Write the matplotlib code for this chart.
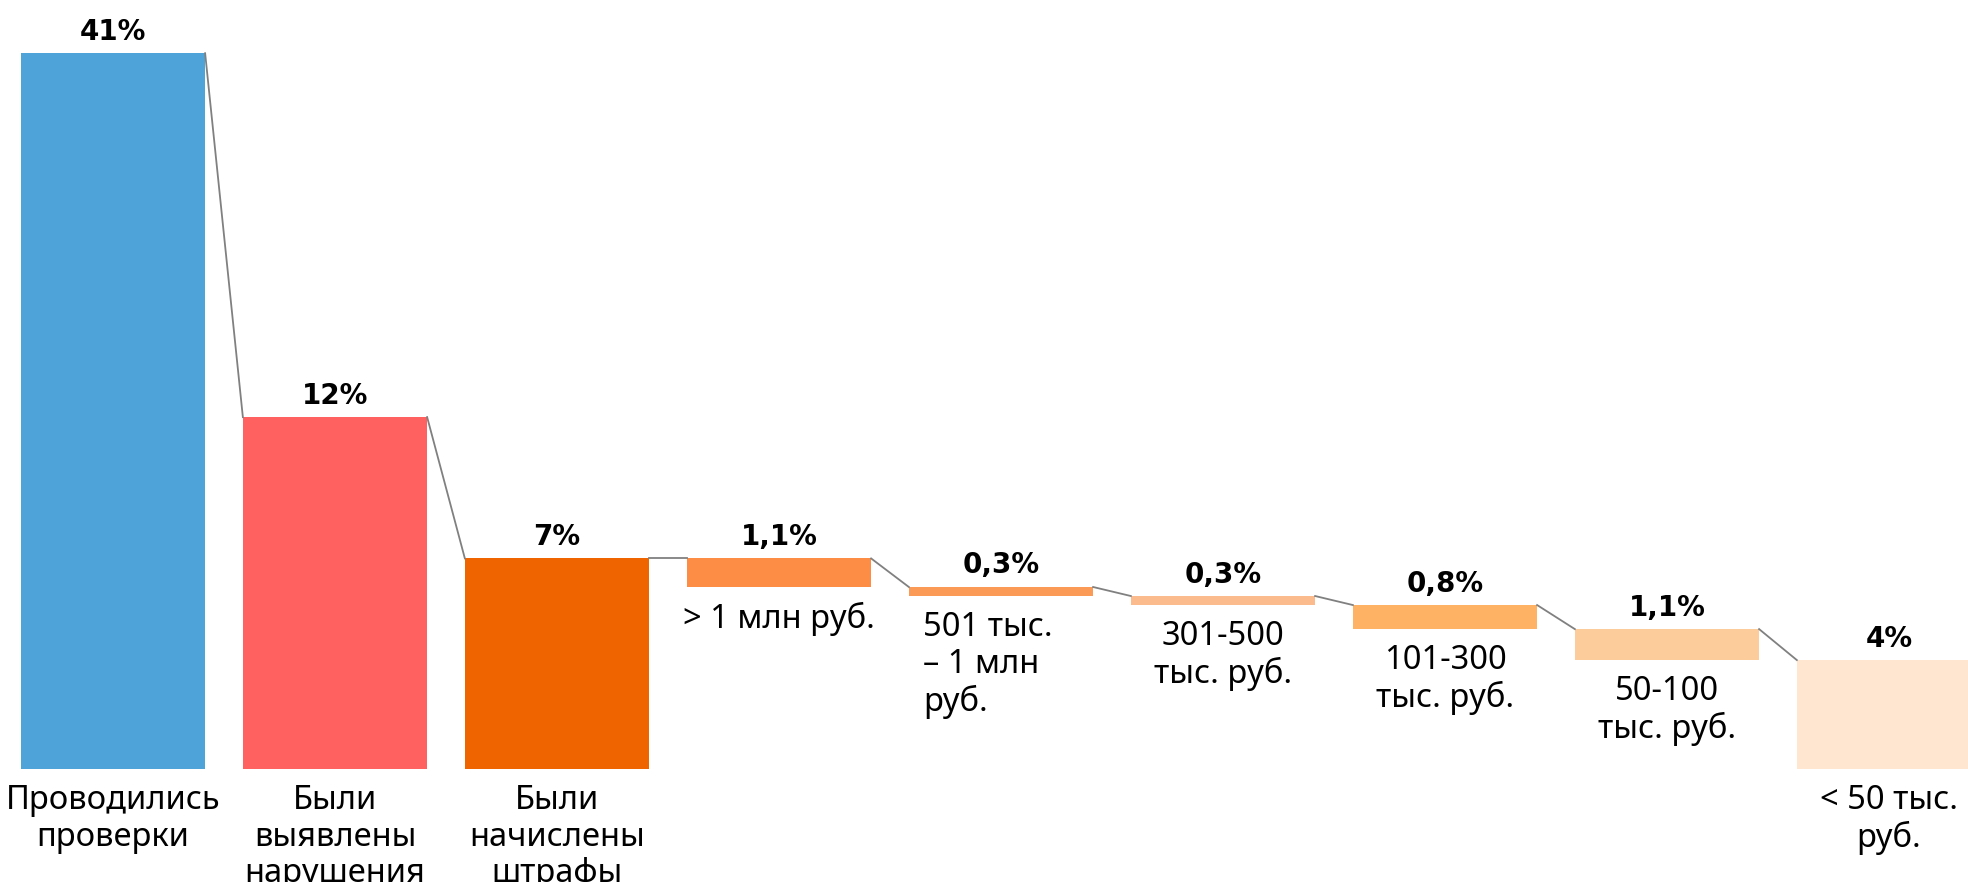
import matplotlib.pyplot as plt

# categories and labels
categories = ['Проводились\nпроверки', 'Были\nвыявлены\nнарушения', 'Были\nначислены\nштрафы',
              '> 1 млн руб.', '501 тыс.\n– 1 млн\nруб.', '301-500\nтыс. руб.',
              '101-300\nтыс. руб.', '50-100\nтыс. руб.', '< 50 тыс.\nруб.']
value_labels = ['41%', '12%', '7%', '1,1%', '0,3%', '0,3%', '0,8%', '1,1%', '4%']
# bar heights as drawn in the picture (first bar is not to scale there)
heights = [23.8, 11.7, 7.0, 0.95, 0.3, 0.3, 0.8, 1.03, 3.62]
colors = ['#4EA3D8', '#FF6161', '#F06400', '#FD8D45', '#FB9A57',
          '#FCBB8C', '#FDB264', '#FDCC9B', '#FFE6D1']

# first three bars stand on the baseline, the rest split the third one
bottoms = [0, 0, 0]
start = heights[2]
for h in heights[3:]:
    bottoms.append(start - h)
    start -= h
tops = [b + h for b, h in zip(bottoms, heights)]

plt.rcParams['font.family'] = ['Noto Sans', 'DejaVu Sans']

fig = plt.figure(figsize=(19.68, 8.82), dpi=100)
ax = fig.add_axes([0, 0, 1, 1])

x = list(range(len(categories)))
width = 0.83
ax.bar(x, heights, bottom=bottoms, width=width, color=colors)

# connector lines between bar tops
for i in range(len(x) - 1):
    ax.plot([x[i] + width / 2, x[i + 1] - width / 2], [tops[i], tops[i + 1]],
            color='#808080', lw=1.3)

for i in x:
    ax.text(x[i], tops[i] + 0.25, value_labels[i], ha='center', va='bottom',
            fontsize=20, fontweight='bold', family='DejaVu Sans')
    dx = -0.06 if i == 4 else 0
    ax.text(x[i] + dx, bottoms[i] - 0.5, categories[i], ha='center', va='top',
            multialignment='left' if i == 4 else 'center',
            fontsize=23.5, linespacing=1.15)

ax.set_xlim(-0.509, 8.356)
ax.set_ylim(-3.76, 25.57)
ax.axis('off')

fig.savefig('out.png', dpi=100)
